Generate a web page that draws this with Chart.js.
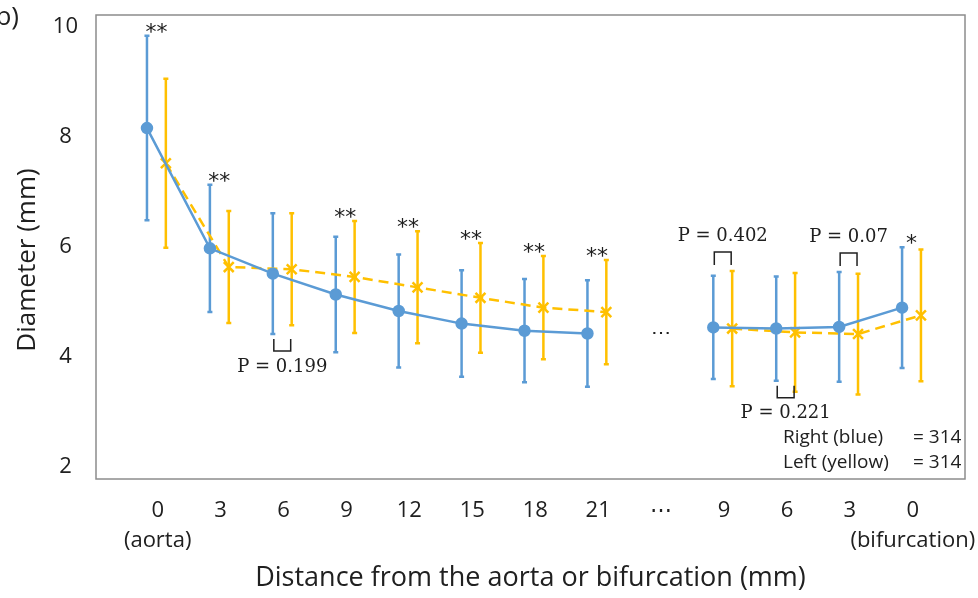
<!DOCTYPE html>
<html>
<head>
<meta charset="utf-8">
<script src="https://cdn.jsdelivr.net/npm/chart.js@4.4.0/dist/chart.umd.min.js"></script>
<style>
html, body { margin: 0; padding: 0; background: #fff; }
</style>
</head>
<body>
<canvas id="diameterChart" width="978" height="598"></canvas>
<script>
// categories along the vessel, "…" marks the break
var categories = [['0', '(aorta)'], '3', '6', '9', '12', '15', '18', '21', '\u22EF', '9', '6', '3', ['0', '(bifurcation)']];
var yTicks = [2, 4, 6, 8, 10];

// right (blue) and left (yellow) diameters, mean and SD in mm
var rightMean = [8.16, 5.97, 5.51, 5.13, 4.83, 4.60, 4.47, 4.42, null, 4.53, 4.51, 4.54, 4.89];
var rightSD   = [1.68, 1.16, 1.10, 1.05, 1.03, 0.97, 0.94, 0.97, null, 0.94, 0.95, 1.00, 1.10];
var leftMean  = [7.52, 5.63, 5.59, 5.45, 5.26, 5.07, 4.89, 4.81, null, 4.51, 4.44, 4.41, 4.75];
var leftSD    = [1.54, 1.02, 1.02, 1.02, 1.02, 1.00, 0.94, 0.95, null, 1.05, 1.08, 1.10, 1.20];

// significance marks and p values
var stars = ['**', '**', '', '**', '**', '**', '**', '**', '', '', '', '', '*'];
var pNotes = [
    { i: 2, text: 'P = 0.199', side: 'below' },
    { i: 9, text: 'P = 0.402', side: 'above' },
    { i: 10, text: 'P = 0.221', side: 'below' },
    { i: 11, text: 'P = 0.07', side: 'above' }
];
var sampleLabels = ['Right (blue)', 'Left (yellow)'];
var sampleCounts = ['= 314', '= 314'];
var yTitle = 'Diameter (mm)';
var xTitle = 'Distance from the aorta or bifurcation (mm)';

var BLUE = '#5B9BD5';
var YELLOW = '#FFC000';
var TEXT = '#202020';
var BLUE_DX = -0.17;
var YELLOW_DX = 0.13;
var SANS = '"Open Sans", Lato, sans-serif';
var SERIF = '"DejaVu Serif", "Liberation Serif", serif';

function toPoints(values, dx) {
    return values.map(function(v, i) { return { x: i + dx, y: v }; });
}

var extras = {
    id: 'extras',
    beforeDatasetsDraw: function(chart) {
        var ctx = chart.ctx, xs = chart.scales.x, ys = chart.scales.y;
        ctx.save();
        ctx.lineWidth = 2.5;
        [[rightMean, rightSD, BLUE, BLUE_DX], [leftMean, leftSD, YELLOW, YELLOW_DX]].forEach(function(s) {
            ctx.strokeStyle = s[2];
            s[0].forEach(function(m, i) {
                if (m === null) return;
                var px = xs.getPixelForValue(i + s[3]);
                var top = ys.getPixelForValue(m + s[1][i]);
                var bot = ys.getPixelForValue(m - s[1][i]);
                ctx.beginPath();
                ctx.moveTo(px, top); ctx.lineTo(px, bot);
                ctx.moveTo(px - 2.5, top); ctx.lineTo(px + 2.5, top);
                ctx.moveTo(px - 2.5, bot); ctx.lineTo(px + 2.5, bot);
                ctx.stroke();
            });
        });
        ctx.restore();
    },
    afterDraw: function(chart) {
        var ctx = chart.ctx, xs = chart.scales.x, ys = chart.scales.y, a = chart.chartArea;
        ctx.save();
        // plot frame
        ctx.strokeStyle = '#8c8c8c';
        ctx.lineWidth = 1.5;
        ctx.strokeRect(a.left, a.top, a.right - a.left, a.bottom - a.top);

        ctx.fillStyle = TEXT;
        ctx.textAlign = 'center';

        // significance stars
        ctx.textBaseline = 'alphabetic';
        ctx.font = '22px "DejaVu Sans", sans-serif';
        stars.forEach(function(s, i) {
            if (!s) return;
            var bx = xs.getPixelForValue(i + BLUE_DX), yx = xs.getPixelForValue(i + YELLOW_DX);
            var top = Math.min(ys.getPixelForValue(rightMean[i] + rightSD[i]), ys.getPixelForValue(leftMean[i] + leftSD[i]));
            ctx.fillText(s, (bx + yx) / 2, top + 3);
        });

        // p value brackets
        ctx.textBaseline = 'middle';
        ctx.font = '18px ' + SERIF;
        ctx.strokeStyle = TEXT;
        ctx.lineWidth = 1.5;
        pNotes.forEach(function(n) {
            var bx = xs.getPixelForValue(n.i + BLUE_DX), yx = xs.getPixelForValue(n.i + YELLOW_DX);
            var mid = (bx + yx) / 2;
            ctx.beginPath();
            if (n.side === 'below') {
                var y0 = ys.getPixelForValue(rightMean[n.i] - rightSD[n.i]) + 5;
                ctx.moveTo(bx + 1, y0); ctx.lineTo(bx + 1, y0 + 12); ctx.lineTo(yx - 1, y0 + 12); ctx.lineTo(yx - 1, y0);
                ctx.stroke();
                ctx.fillText(n.text, mid, y0 + 28);
            } else {
                var topv = Math.min(ys.getPixelForValue(rightMean[n.i] + rightSD[n.i]), ys.getPixelForValue(leftMean[n.i] + leftSD[n.i]));
                var y1 = topv - 6;
                ctx.moveTo(bx + 1, y1); ctx.lineTo(bx + 1, y1 - 13); ctx.lineTo(yx - 1, y1 - 13); ctx.lineTo(yx - 1, y1);
                ctx.stroke();
                ctx.fillText(n.text, mid, y1 - 29);
            }
        });

        // break marker inside the plot
        ctx.font = '20px ' + SANS;
        ctx.fillText('\u22EF', xs.getPixelForValue(8), ys.getPixelForValue((rightMean[7] + rightMean[9]) / 2) + 3);

        // sample size note
        ctx.font = '19px ' + SANS;
        ctx.textAlign = 'left';
        sampleLabels.forEach(function(t, k) {
            ctx.fillText(t, a.right - 182, a.bottom - 41 + k * 25);
            ctx.fillText(sampleCounts[k], a.right - 52, a.bottom - 41 + k * 25);
        });

        // y axis title, sits a little below the plot centre
        ctx.font = '26px ' + SANS;
        ctx.textAlign = 'center';
        ctx.translate(28, (a.top + a.bottom) / 2 + 13);
        ctx.rotate(-Math.PI / 2);
        ctx.fillText(yTitle, 0, 0);
        ctx.setTransform(1, 0, 0, 1, 0, 0);

        // panel letter
        ctx.font = '26px ' + SANS;
        ctx.textAlign = 'right';
        ctx.fillText('b)', 19, 18);
        ctx.restore();
    }
};

var ctx = document.getElementById('diameterChart').getContext('2d');
var chart = new Chart(ctx, {
    type: 'line',
    data: {
        datasets: [{
            label: 'Right (blue)',
            data: toPoints(rightMean, BLUE_DX),
            borderColor: BLUE,
            backgroundColor: BLUE,
            borderWidth: 2.5,
            pointStyle: 'circle',
            pointRadius: 5,
            pointHoverRadius: 5,
            spanGaps: false
        }, {
            label: 'Left (yellow)',
            data: toPoints(leftMean, YELLOW_DX),
            borderColor: YELLOW,
            backgroundColor: YELLOW,
            borderWidth: 2.5,
            borderDash: [10, 6],
            pointStyle: 'crossRot',
            pointRadius: 7,
            pointHoverRadius: 7,
            pointBorderWidth: 2.5,
            spanGaps: false
        }]
    },
    options: {
        responsive: false,
        animation: false,
        devicePixelRatio: 1,
        layout: { padding: { left: 0, right: 13, top: 15, bottom: 0 } },
        plugins: { legend: { display: false }, tooltip: { enabled: false } },
        scales: {
            x: {
                type: 'linear',
                min: -0.98,
                max: 12.83,
                afterBuildTicks: function(s) {
                    s.ticks = categories.map(function(c, i) { return { value: i }; });
                },
                afterFit: function(s) {
                    s.height = 119;
                    s.paddingLeft = 0;
                    s.paddingRight = 0;
                },
                grid: { display: false, drawTicks: false },
                border: { display: false },
                ticks: {
                    autoSkip: false,
                    maxRotation: 0,
                    padding: 16,
                    color: TEXT,
                    font: { family: SANS, size: 22, lineHeight: 1.4 },
                    callback: function(v) { return categories[v]; }
                },
                title: {
                    display: true,
                    text: xTitle,
                    color: TEXT,
                    font: { family: SANS, size: 27 },
                    padding: { top: 0, bottom: 3 }
                }
            },
            y: {
                min: 1.77,
                max: 10.22,
                afterBuildTicks: function(s) {
                    s.ticks = yTicks.map(function(v) { return { value: v }; });
                },
                afterFit: function(s) {
                    s.width = 96;
                    s.paddingTop = 0;
                    s.paddingBottom = 0;
                },
                grid: { display: false, drawTicks: false },
                border: { display: false },
                ticks: {
                    padding: 18,
                    crossAlign: 'center',
                    color: TEXT,
                    font: { family: SANS, size: 22 }
                }
            }
        }
    },
    plugins: [extras]
});
</script>
</body>
</html>
